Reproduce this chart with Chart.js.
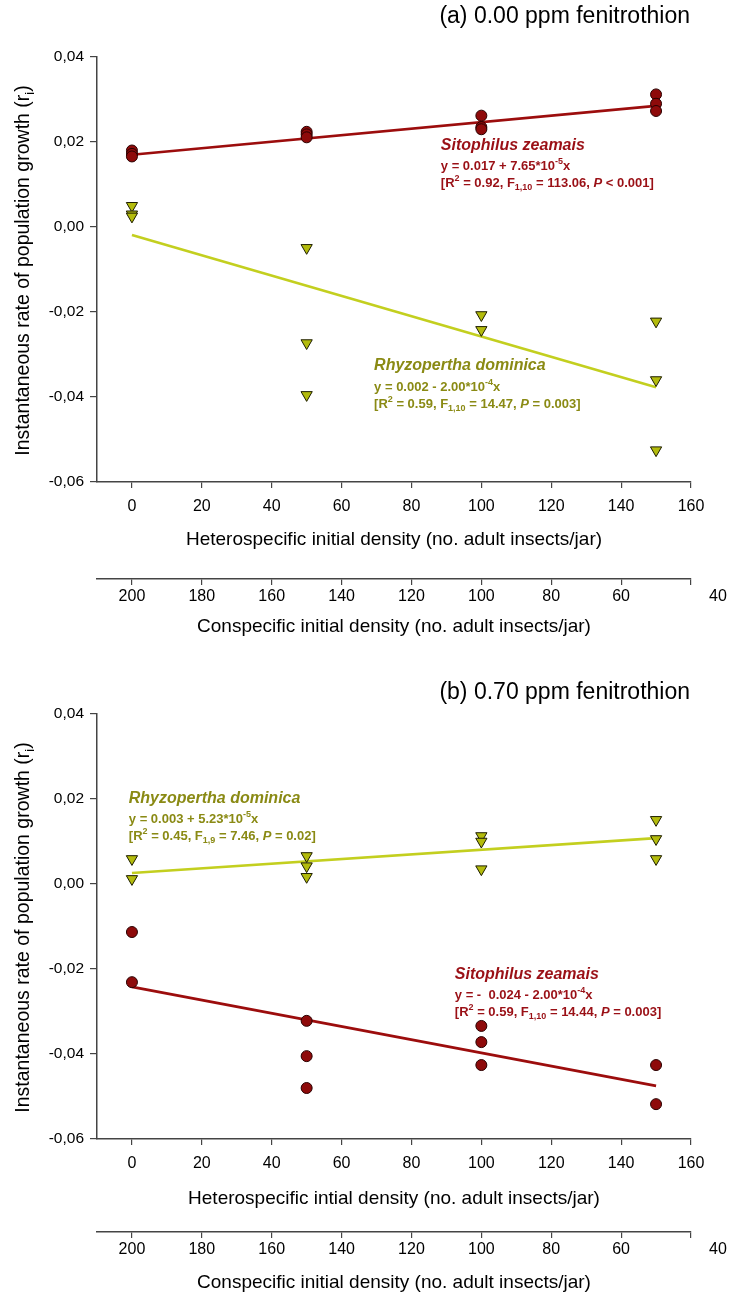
<!DOCTYPE html>
<html><head><meta charset="utf-8">
<script src="https://cdn.jsdelivr.net/npm/chart.js@4.4.0/dist/chart.umd.min.js"></script>
<style>
html,body{margin:0;padding:0;background:#fff;}
#wrap{position:relative;width:732px;height:1298px;overflow:hidden;background:#fff;}
canvas{position:absolute;left:0;}
</style></head><body>
<div id="wrap">
<canvas id="cA" width="732" height="656" style="top:0"></canvas>
<canvas id="cB" width="732" height="642" style="top:656px"></canvas>
</div>
<script>
// ---------- data ----------
const heteroTicks = [0, 20, 40, 60, 80, 100, 120, 140, 160];
const conspecTicks = [200, 180, 160, 140, 120, 100, 80, 60, 40];
const yTicks = [-0.06, -0.04, -0.02, 0.00, 0.02, 0.04];
const fitX = [0, 150];

// (a) 0.00 ppm fenitrothion
const a_szX = [0, 0, 0, 50, 50, 50, 100, 100, 100, 150, 150, 150];
const a_szY = [0.0180, 0.0172, 0.0166, 0.0224, 0.0218, 0.0211, 0.0262, 0.0235, 0.0230, 0.0312, 0.0290, 0.0273];
const a_rdX = [0, 0, 0, 50, 50, 50, 100, 100, 150, 150, 150];
const a_rdY = [0.0050, 0.0030, 0.0025, -0.0049, -0.0273, -0.0395, -0.0207, -0.0242, -0.0222, -0.0360, -0.0525];
const a_szFit = [0.0170, 0.0285];
const a_rdFit = [-0.0019, -0.0377];

// (b) 0.70 ppm fenitrothion
const b_rdX = [0, 0, 50, 50, 50, 100, 100, 100, 150, 150, 150];
const b_rdY = [0.0059, 0.0012, 0.0066, 0.0042, 0.0017, 0.0113, 0.0100, 0.0035, 0.0151, 0.0106, 0.0059];
const b_szX = [0, 0, 50, 50, 50, 100, 100, 100, 150, 150];
const b_szY = [-0.0113, -0.0231, -0.0322, -0.0405, -0.0480, -0.0334, -0.0372, -0.0426, -0.0426, -0.0518];
const b_szFit = [-0.0242, -0.0475];
const b_rdFit = [0.0026, 0.0108];

// ---------- styles ----------
const FONT = '"Liberation Sans", Arial, Helvetica, sans-serif';
const AXIS = '#444444';
const SZ_FILL = '#8e0a0a', SZ_LINE = '#9c0d0d', SZ_TXT = '#9a1016';
const RD_FILL = '#b3bb0c', RD_LINE = '#c3cf1f', RD_TXT = '#8a8a14';
const TICK_PX = 15.5, XTICK_PX = 16, XTITLE_PX = 19;
Chart.defaults.font.family = FONT;
Chart.defaults.color = '#000';

function pts(xs, ys) { return xs.map((x, i) => ({x: x, y: ys[i]})); }

function parseRich(s) {
  const out = []; let i = 0, it = false, buf = '';
  const push = () => { if (buf) { out.push({t: buf, mode: 'n', it: it}); buf = ''; } };
  while (i < s.length) {
    const c = s[i];
    if (c === '~') { push(); it = !it; i++; continue; }
    if ((c === '^' || c === '_') && s[i + 1] === '{') {
      push(); const j = s.indexOf('}', i);
      out.push({t: s.slice(i + 2, j), mode: c === '^' ? 'sup' : 'sub', it: it});
      i = j + 1; continue;
    }
    buf += c; i++;
  }
  push(); return out;
}
function drawRich(ctx, s, x, y, o) {
  const segs = parseRich(s);
  const fontOf = sg => ((o.italic || sg.it) ? 'italic ' : '') + (o.weight || 'normal') + ' ' +
    (sg.mode === 'n' ? o.size : Math.round(o.size * 0.68)) + 'px ' + FONT;
  let w = 0;
  segs.forEach(sg => { ctx.font = fontOf(sg); sg.w = ctx.measureText(sg.t).width; w += sg.w; });
  let cx = o.align === 'center' ? x - w / 2 : (o.align === 'right' ? x - w : x);
  ctx.fillStyle = o.color; ctx.textBaseline = 'middle'; ctx.textAlign = 'left';
  segs.forEach(sg => {
    ctx.font = fontOf(sg);
    const dy = sg.mode === 'sup' ? -o.size * 0.38 : (sg.mode === 'sub' ? o.size * 0.32 : 0);
    ctx.fillText(sg.t, cx, y + dy);
    cx += sg.w;
  });
}

const textPlugin = {
  id: 'texts',
  afterDraw(chart, args, opts) {
    const ctx = chart.ctx, ca = chart.chartArea;
    const xs = chart.scales.x, ys = chart.scales.y, x2 = chart.scales.x2;
    ctx.save();
    // panel title
    drawRich(ctx, opts.title, ca.right - 1, opts.titleY, {size: 23, color: '#000', align: 'right'});
    // y axis title
    ctx.save();
    ctx.translate(24, (ca.top + ca.bottom) / 2 + 1);
    ctx.rotate(-Math.PI / 2);
    drawRich(ctx, 'Instantaneous rate of population growth (r_{i})', 0, 0, {size: 19.5, color: '#000', align: 'center'});
    ctx.restore();
    // last conspecific label sits beyond the end of its axis, as in the original
    const last = conspecTicks[conspecTicks.length - 1];
    drawRich(ctx, String(last), x2.getPixelForValue(last) + 27, x2.top + 6 + 2 + XTICK_PX * 0.6,
             {size: XTICK_PX, color: '#000', align: 'center'});
    // annotations
    (opts.notes || []).forEach(n => {
      const px = xs.getPixelForValue(n.x), py = ys.getPixelForValue(n.y);
      drawRich(ctx, n.lines[0], px, py, {size: 16, weight: 'bold', italic: true, color: n.color});
      drawRich(ctx, n.lines[1], px, py + 21, {size: 13, weight: 'bold', color: n.color});
      drawRich(ctx, n.lines[2], px, py + 38, {size: 13, weight: 'bold', color: n.color});
    });
    ctx.restore();
  }
};

function makePanel(id, p) {
  const tickSet = arr => s => { s.ticks = arr.map(v => ({value: v})); };
  const last = conspecTicks[conspecTicks.length - 1];
  return new Chart(document.getElementById(id), {
    type: 'scatter',
    data: {datasets: [
      {data: pts(p.szX, p.szY), pointStyle: 'circle', pointRadius: 5.5, backgroundColor: SZ_FILL,
       borderColor: '#2a0000', borderWidth: 1, order: 0},
      {data: pts(p.rdX, p.rdY), pointStyle: 'triangle', rotation: 180, pointRadius: 6.5, backgroundColor: RD_FILL,
       borderColor: '#1e1e00', borderWidth: 1, order: 0},
      {data: pts(fitX, p.szFit), showLine: true, pointRadius: 0, borderColor: SZ_LINE, borderWidth: 2.6, order: 1},
      {data: pts(fitX, p.rdFit), showLine: true, pointRadius: 0, borderColor: RD_LINE, borderWidth: 2.6, order: 1}
    ]},
    options: {
      responsive: false, animation: false, events: [],
      layout: {padding: {top: p.padTop, bottom: p.padBottom, left: 0, right: 41}},
      plugins: {legend: {display: false}, tooltip: {enabled: false},
        texts: {title: p.title, titleY: p.titleY, notes: p.notes}},
      scales: {
        y: {
          type: 'linear', position: 'left', min: -0.06, max: 0.04,
          afterBuildTicks: tickSet(yTicks),
          afterFit: s => { s.width = 97; },
          grid: {display: true, drawOnChartArea: false, drawTicks: true, tickLength: 7, color: AXIS, lineWidth: 1.2},
          border: {display: true, color: AXIS, width: 1.5},
          ticks: {font: {size: TICK_PX}, color: '#000', padding: 6,
                  callback: v => v.toFixed(2).replace('.', ',')},
          title: {display: false}
        },
        x: {
          type: 'linear', position: 'bottom', min: -10, max: 160, weight: 0,
          afterBuildTicks: tickSet(heteroTicks),
          afterFit: s => { s.height = p.xH; },
          grid: {display: true, drawOnChartArea: false, drawTicks: true, tickLength: 6, color: AXIS, lineWidth: 1.2},
          border: {display: true, color: AXIS, width: 1.5},
          ticks: {font: {size: XTICK_PX}, color: '#000', padding: 9, maxRotation: 0, autoSkip: false},
          title: {display: true, text: p.xTitle, font: {size: XTITLE_PX}, color: '#000', padding: {top: 0, bottom: p.xTitlePad}}
        },
        x2: {
          type: 'linear', position: 'bottom', min: 40, max: 210, reverse: true, weight: 1,
          afterBuildTicks: tickSet(conspecTicks),
          afterFit: s => { s.height = p.x2H; },
          grid: {display: true, drawOnChartArea: false, drawTicks: true, tickLength: 6, color: AXIS, lineWidth: 1.2},
          border: {display: true, color: AXIS, width: 1.5},
          ticks: {font: {size: XTICK_PX}, color: '#000', padding: 2, maxRotation: 0, autoSkip: false,
                  callback: v => (v === last ? '' : String(v))},
          title: {display: true, text: 'Conspecific initial density (no. adult insects/jar)', font: {size: XTITLE_PX}, color: '#000', padding: {top: 0, bottom: 1}}
        }
      }
    },
    plugins: [textPlugin]
  });
}

makePanel('cA', {
  title: '(a) 0.00 ppm fenitrothion', titleY: 17,
  xTitle: 'Heterospecific initial density (no. adult insects/jar)',
  padTop: 57, padBottom: 17, xH: 97, xTitlePad: 28, x2H: 60,
  szX: a_szX, szY: a_szY, rdX: a_rdX, rdY: a_rdY, szFit: a_szFit, rdFit: a_rdFit,
  notes: [
    {x: 88.4, y: 0.0191, color: SZ_TXT, lines: ['Sitophilus zeamais', 'y = 0.017 + 7.65*10^{-5}x', '[R^{2} = 0.92, F_{1,10} = 113.06, ~P~ < 0.001]']},
    {x: 69.3, y: -0.0327, color: RD_TXT, lines: ['Rhyzopertha dominica', 'y = 0.002 - 2.00*10^{-4}x', '[R^{2} = 0.59, F_{1,10} = 14.47, ~P~ = 0.003]']}
  ]
});
makePanel('cB', {
  title: '(b) 0.70 ppm fenitrothion', titleY: 37,
  xTitle: 'Heterospecific intial density (no. adult insects/jar)',
  padTop: 58, padBottom: 3, xH: 93, xTitlePad: 22, x2H: 63,
  szX: b_szX, szY: b_szY, rdX: b_rdX, rdY: b_rdY, szFit: b_szFit, rdFit: b_rdFit,
  notes: [
    {x: -0.9, y: 0.0202, color: RD_TXT, lines: ['Rhyzopertha dominica', 'y = 0.003 + 5.23*10^{-5}x', '[R^{2} = 0.45, F_{1,9} = 7.46, ~P~ = 0.02]']},
    {x: 92.4, y: -0.0212, color: SZ_TXT, lines: ['Sitophilus zeamais', 'y = -  0.024 - 2.00*10^{-4}x', '[R^{2} = 0.59, F_{1,10} = 14.44, ~P~ = 0.003]']}
  ]
});
</script>
</body></html>
